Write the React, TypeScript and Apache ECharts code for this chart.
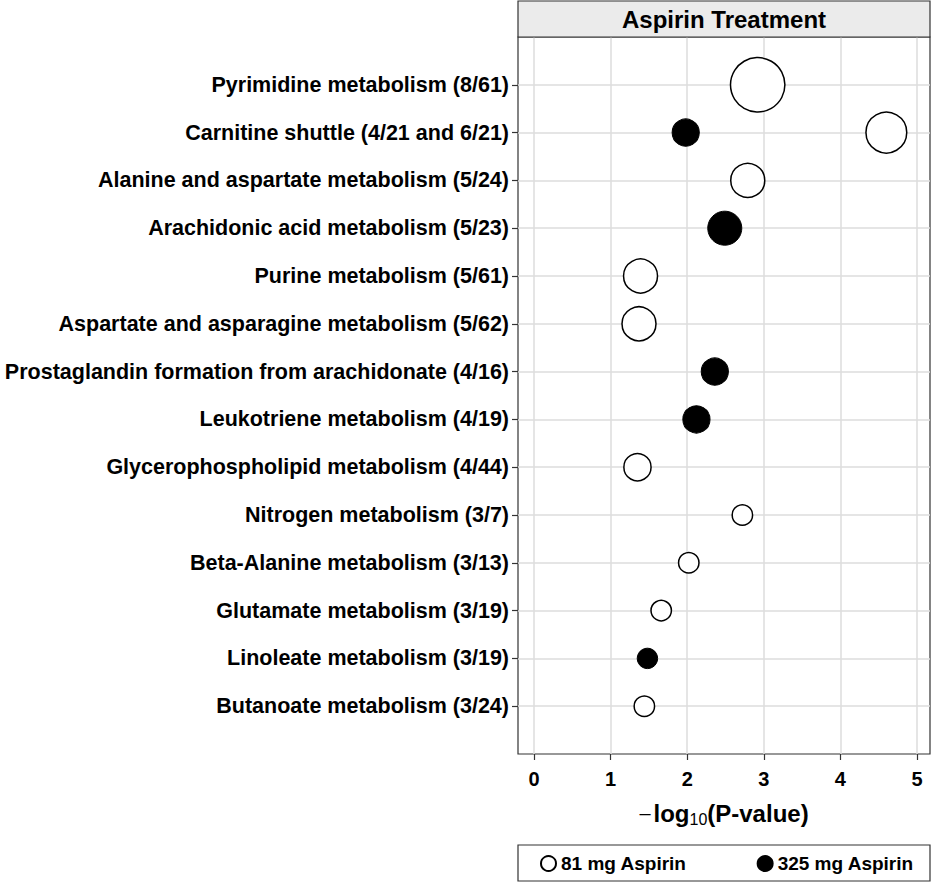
import React, { useEffect, useRef } from "react";
import * as echarts from "echarts";

const categories = [
  "Pyrimidine metabolism (8/61)",
  "Carnitine shuttle (4/21 and 6/21)",
  "Alanine and aspartate metabolism (5/24)",
  "Arachidonic acid metabolism (5/23)",
  "Purine metabolism (5/61)",
  "Aspartate and asparagine metabolism (5/62)",
  "Prostaglandin formation from arachidonate (4/16)",
  "Leukotriene metabolism (4/19)",
  "Glycerophospholipid metabolism (4/44)",
  "Nitrogen metabolism (3/7)",
  "Beta-Alanine metabolism (3/13)",
  "Glutamate metabolism (3/19)",
  "Linoleate metabolism (3/19)",
  "Butanoate metabolism (3/24)",
];

const dose81 = [2.92, 4.6, 2.79, null, 1.39, 1.37, null, null, 1.35, 2.72, 2.02, 1.66, null, 1.44];
const hits81 = [8, 6, 5, null, 5, 5, null, null, 4, 3, 3, 3, null, 3];
const dose325 = [null, 1.98, null, 2.49, null, null, 2.36, 2.12, null, null, null, null, 1.48, null];
const hits325 = [null, 4, null, 5, null, null, 4, 4, null, null, null, null, 3, null];

const xTicks = [0, 1, 2, 3, 4, 5];
const seriesNames = ["81 mg Aspirin", "325 mg Aspirin"];
const panelTitle = "Aspirin Treatment";

const FONT = "Arial, 'Liberation Sans', Helvetica, sans-serif";

function build(vals: (number | null)[], hits: (number | null)[]) {
  const out: number[][] = [];
  vals.forEach((v, i) => {
    if (v != null && hits[i] != null) out.push([v, i + 1, hits[i] as number]);
  });
  return out;
}

export default function App() {
  const ref = useRef<HTMLDivElement>(null);
  useEffect(() => {
    document.body.style.margin = "0";
    const chart = echarts.init(ref.current!, null, { renderer: "svg" });
    const L = 518, R = 930, T = 37, B = 754;
    chart.setOption({
      animation: false,
      backgroundColor: "#fff",
      grid: {
        left: L,
        top: T,
        width: R - L,
        height: B - T,
        show: true,
        borderColor: "#333",
        borderWidth: 1.2,
        backgroundColor: "transparent",
      },
      xAxis: {
        type: "value",
        min: -0.21,
        max: 5.17,
        axisLine: { show: false, onZero: false },
        axisTick: { show: true, length: 6, customValues: xTicks, lineStyle: { color: "#333", width: 1.2 } },
        axisLabel: {
          customValues: xTicks,
          fontSize: 20,
          fontWeight: "bold",
          color: "#000",
          fontFamily: FONT,
          margin: 15,
        },
        splitLine: { show: true, lineStyle: { color: "#dcdcdc", width: 1.5 } },
      },
      yAxis: {
        type: "value",
        inverse: true,
        min: 0,
        max: categories.length + 1,
        axisLine: { show: false, onZero: false },
        axisTick: {
          show: true,
          length: 6,
          customValues: categories.map((_, i) => i + 1),
          lineStyle: { color: "#333", width: 1.2 },
        },
        axisLabel: {
          customValues: categories.map((_, i) => i + 1),
          formatter: (v: number) => categories[Math.round(v) - 1] ?? "",
          fontSize: 21.5,
          fontWeight: "bold",
          color: "#000",
          fontFamily: FONT,
          margin: 9,
        },
        splitLine: { show: true, lineStyle: { color: "#dcdcdc", width: 1.5 } },
      },
      legend: {
        data: seriesNames,
        left: 540,
        top: 854,
        icon: "circle",
        itemWidth: 15,
        itemHeight: 15,
        itemGap: 70,
        padding: 0,
        textStyle: { fontSize: 19, fontWeight: "bold", color: "#000", fontFamily: FONT },
      },
      series: [
        {
          name: seriesNames[0],
          type: "scatter",
          data: build(dose81, hits81),
          symbolSize: (d: number[]) => d[2] * 6.8,
          itemStyle: { color: "#fff", borderColor: "#000", borderWidth: 1.5, opacity: 1 },
          z: 3,
        },
        {
          name: seriesNames[1],
          type: "scatter",
          data: build(dose325, hits325),
          symbolSize: (d: number[]) => d[2] * 6.8,
          itemStyle: { color: "#000", borderColor: "#000", borderWidth: 1, opacity: 1 },
          z: 3,
        },
      ],
      graphic: [
        {
          type: "rect",
          shape: { x: L, y: 1, width: R - L, height: T - 1 },
          style: { fill: "#ebebeb", stroke: "#333", lineWidth: 1.2 },
          z: 10,
        },
        {
          type: "text",
          x: (L + R) / 2,
          y: 19,
          style: {
            text: panelTitle,
            fontSize: 24,
            fontWeight: "bold",
            fontFamily: FONT,
            fill: "#000",
            align: "center",
            verticalAlign: "middle",
          },
          z: 11,
        },
        {
          type: "text",
          x: (L + R) / 2,
          y: 813,
          style: {
            text: "{m|–}{b|log}{s|10}{b|(P-value)}",
            align: "center",
            verticalAlign: "middle",
            rich: {
              m: { fontSize: 20, fontFamily: FONT, fill: "#000", padding: [0, 3, 0, 0] },
              b: { fontSize: 24, fontWeight: "bold", fontFamily: FONT, fill: "#000" },
              s: { fontSize: 16, fontFamily: FONT, fill: "#000", padding: [12, 0, 0, 0] },
            },
          },
          z: 11,
        },
        {
          type: "rect",
          shape: { x: L, y: 845, width: R - L, height: 36 },
          style: { fill: "none", stroke: "#333", lineWidth: 1.2 },
          z: 10,
        },
      ],
    });
    return () => chart.dispose();
  }, []);
  return <div ref={ref} style={{ position: "fixed", left: 0, top: 0, width: 934, height: 882 }} />;
}
